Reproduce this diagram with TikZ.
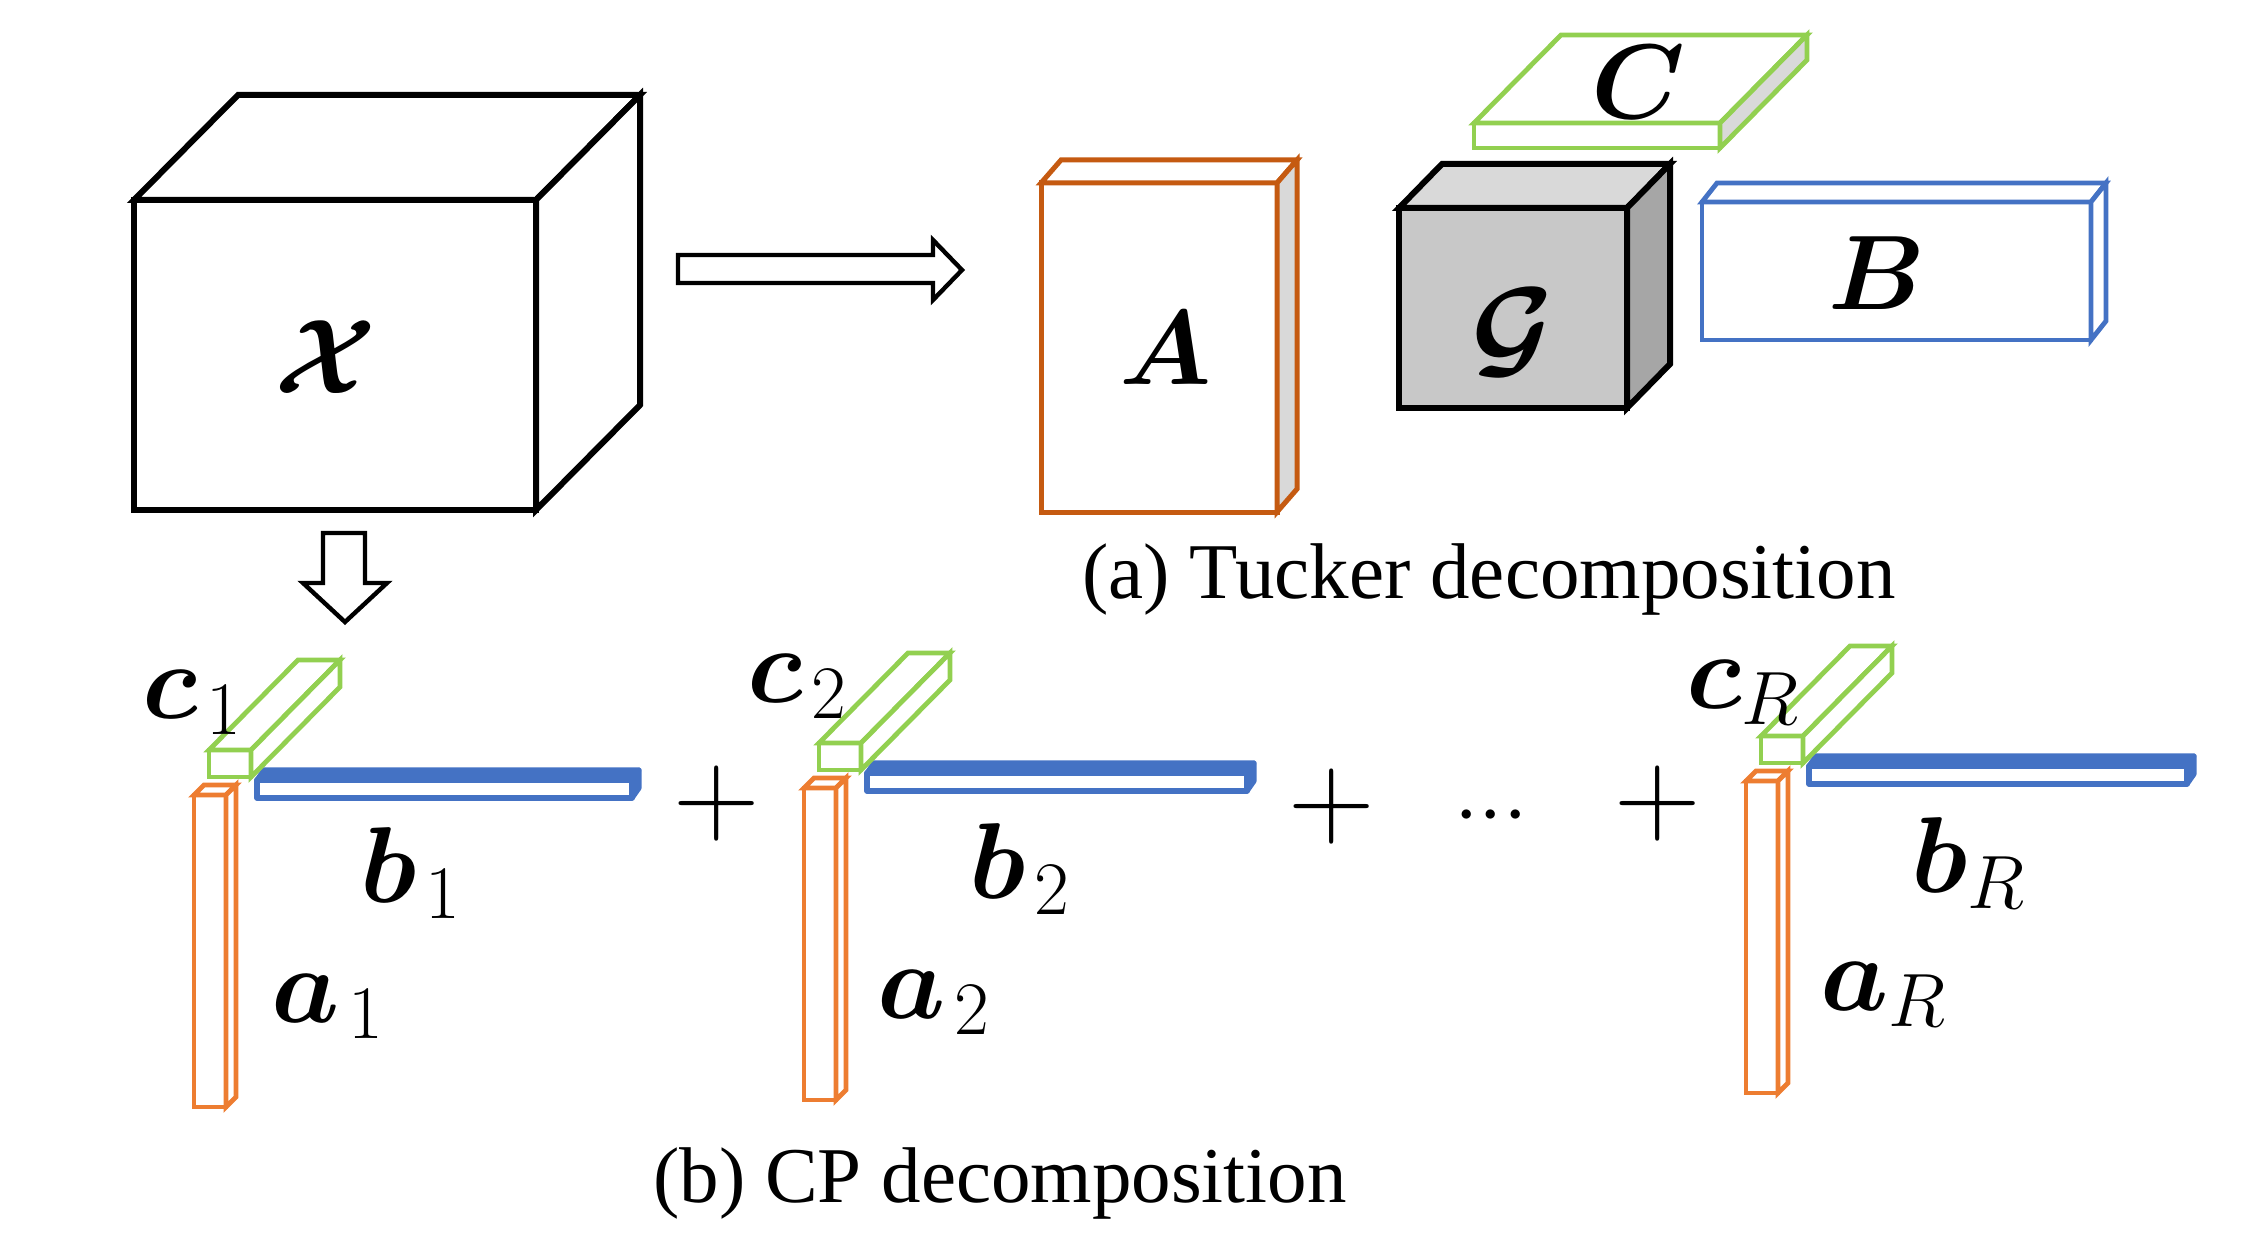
\RequirePackage{fix-cm}
\documentclass[tikz,border=0pt]{standalone}
\usepackage{amsmath}
\usepackage{fontspec}
\newfontfamily\capfont{Liberation Serif}
\definecolor{tuckorange}{HTML}{C55A11}
\definecolor{cporange}{HTML}{ED7D31}
\definecolor{cpgreen}{HTML}{92D050}
\definecolor{cpblue}{HTML}{4472C4}
\definecolor{gfront}{HTML}{C8C8C8}
\definecolor{gtop}{HTML}{D9D9D9}
\definecolor{gside}{HTML}{A6A6A6}
\definecolor{lightside}{HTML}{D9D9D9}
% #1 style, #2 x, #3 y, #4 w, #5 h, #6 dx, #7 dy, #8 top fill, #9 side fill
\newcommand{\mybox}[9]{%
  \filldraw[#1] ({#2},{#3}) rectangle ++({#4},{#5});
  \filldraw[#1, fill=#8] ({#2},{#3}) -- ++({#6},{#7}) -- ++({#4},0) -- ++({-(#6)},{-(#7)}) -- cycle;
  \filldraw[#1, fill=#9] ({#2+#4},{#3}) -- ++({#6},{#7}) -- ++(0,{#5}) -- ++({-(#6)},{-(#7)}) -- cycle;
}
\tikzset{
  xcube/.style={draw=black, line width=3pt, fill=white, line join=miter},
  tA/.style={draw=tuckorange, line width=2.5pt, fill=white, line join=miter},
  tG/.style={draw=black, line width=3pt, fill=gfront, line join=miter},
  tC/.style={draw=cpgreen, line width=2.4pt, fill=white, line join=miter},
  tB/.style={draw=cpblue, line width=2.4pt, fill=white, line join=miter},
  cpa/.style={draw=cporange, line width=2.4pt, fill=white, line join=miter},
  cpb/.style={draw=cpblue, line width=2.6pt, fill=white, line join=round},
  cpc/.style={draw=cpgreen, line width=2.4pt, fill=white, line join=miter},
  blockarrow/.style={draw=black, line width=2.2pt, fill=white, line join=miter},
  biglabel/.style={inner sep=0pt, font=\fontsize{53}{60}\selectfont},
  veclabel/.style={inner sep=0pt, anchor=base west, font=\fontsize{54}{60}\selectfont},
  caption/.style={inner sep=0pt, anchor=base, font=\capfont\fontsize{39.5}{45}\selectfont},
  plussign/.style={inner sep=0pt, font=\fontsize{60}{66}\selectfont},
}
\begin{document}
\begin{tikzpicture}[x=0.5pt, y=-0.5pt]
\useasboundingbox (0,0) rectangle (2244,1246);

% ---- tensor X ----
\mybox{xcube}{134}{200}{402}{310}{104}{-105}{white}{white}
\node[biglabel] (X) at (326,357) {$\boldsymbol{\mathcal{X}}$};

% ---- block arrows ----
\filldraw[blockarrow] (678,255) -- (933,255) -- (933,240) -- (962,270) -- (933,300) -- (933,283) -- (678,283) -- cycle;
\filldraw[blockarrow] (323,533) -- (365,533) -- (365,583) -- (387,583) -- (345,622) -- (303,583) -- (323,583) -- cycle;

% ---- Tucker ----
\mybox{tA}{1041}{183}{236}{329}{20}{-23}{white}{lightside}
\node[biglabel] (A) at (1166,348) {$\boldsymbol{A}$};
\mybox{tC}{1474}{123}{246}{25}{87}{-88}{white}{lightside}
\node[biglabel] (C) at (1638,82) {$\boldsymbol{C}$};
\mybox{tG}{1399}{208}{228}{200}{43}{-44}{gtop}{gside}
\node[biglabel, font=\fontsize{56}{60}\selectfont] (G) at (1513,333) {$\boldsymbol{\mathcal{G}}$};
\mybox{tB}{1702}{202}{389}{138}{15}{-19}{white}{white}
\node[biglabel] (B) at (1877,273) {$\boldsymbol{B}$};
\node[caption] (capa) at (1489,598) {(a) Tucker decomposition};

% ---- CP unit 1 ----
\mybox{cpa}{194}{795}{32}{312}{10}{-10}{white}{white}
\mybox{cpb}{257}{780}{375}{18}{7}{-10}{cpblue}{cpblue}
\mybox{cpc}{209}{750}{42}{27}{89}{-90}{white}{white}
\node[veclabel] (c1) at (142,718) {$\boldsymbol{c}_{\mkern2mu 1}$};
\node[veclabel] (b1) at (360,902) {$\boldsymbol{b}_{\mkern2mu 1}$};
\node[veclabel] (a1) at (271,1022) {$\boldsymbol{a}_{\mkern2mu 1}$};

% ---- CP unit 2 ----
\begin{scope}[shift={(610,-7)}]
\mybox{cpa}{194}{795}{32}{312}{10}{-10}{white}{white}
\mybox{cpb}{257}{780}{380}{18}{7}{-10}{cpblue}{cpblue}
\mybox{cpc}{209}{750}{42}{27}{89}{-90}{white}{white}
\end{scope}
\node[veclabel] (c2) at (747,702) {$\boldsymbol{c}_{\mkern2mu 2}$};
\node[veclabel] (b2) at (969,898) {$\boldsymbol{b}_{\mkern2mu 2}$};
\node[veclabel] (a2) at (877,1018) {$\boldsymbol{a}_{\mkern2mu 2}$};

% ---- CP unit R ----
\begin{scope}[shift={(1552,-14)}]
\mybox{cpa}{194}{795}{32}{312}{10}{-10}{white}{white}
\mybox{cpb}{257}{780}{378}{18}{7}{-10}{cpblue}{cpblue}
\mybox{cpc}{209}{750}{42}{27}{89}{-90}{white}{white}
\end{scope}
\node[veclabel] (cR) at (1686,708) {$\boldsymbol{c}_{R}$};
\node[veclabel] (bR) at (1911,892) {$\boldsymbol{b}_{R}$};
\node[veclabel] (aR) at (1820,1010) {$\boldsymbol{a}_{R}$};

% ---- plus signs and dots ----
\node[plussign] (p1) at (717,803) {$+$};
\node[plussign] (p2) at (1332,806) {$+$};
\node[plussign] (p3) at (1658,803) {$+$};
\node[inner sep=0pt, anchor=base, font=\fontsize{44}{48}\selectfont] (dots) at (1491,836) {$\mathord{\cdotp}\mathord{\cdotp}\mathord{\cdotp}$};

\node[caption] (capb) at (1000,1202) {(b) CP decomposition};
\end{tikzpicture}
\end{document}
